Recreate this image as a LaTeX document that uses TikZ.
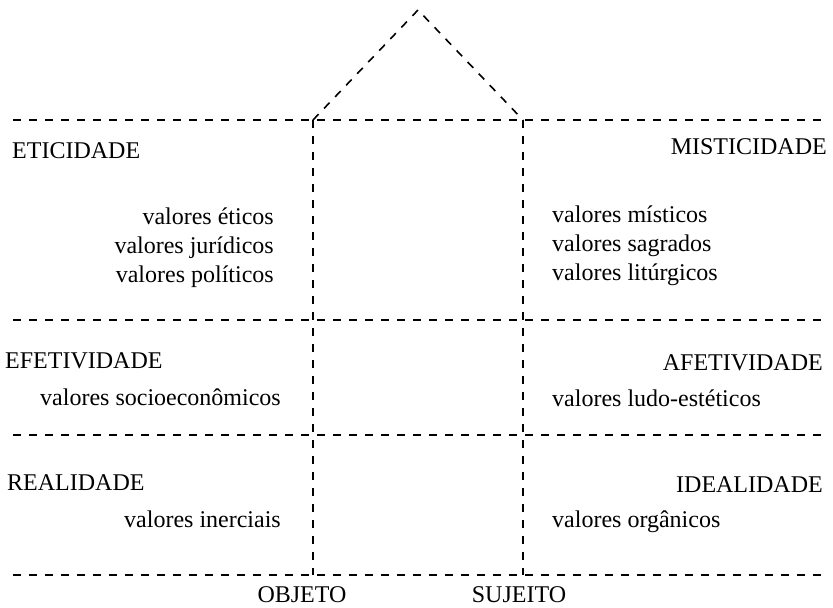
\documentclass[tikz,border=0pt]{standalone}
\usepackage{fontspec}
\setmainfont{Liberation Serif}
\usetikzlibrary{positioning}

\begin{document}
\begin{tikzpicture}[x=1pt, y=-1pt, font=\fontsize{24}{29}\selectfont,
                    inner sep=0pt]
    \tikzstyle{grade}=[line width=1.6pt, dash pattern=on 8pt off 8pt]
    \tikzstyle{esq}=[anchor=base west]
    \tikzstyle{dir}=[anchor=base east]
    \useasboundingbox (0,0) rectangle (833,608);

    % grade
    \coordinate (h1w) at (13,120);  \coordinate (h1e) at (823,120);
    \coordinate (h2w) at (13,320);  \coordinate (h2e) at (823,320);
    \coordinate (h3w) at (13,435);  \coordinate (h3e) at (823,435);
    \coordinate (h4w) at (13,575);  \coordinate (h4e) at (823,575);
    \coordinate (ot) at (313,120);  \coordinate (ob) at (313,575);
    \coordinate (st) at (523,120);  \coordinate (sb) at (523,575);
    \coordinate (cume) at (418,10);

    \draw[grade] (h1w) -- (h1e);
    \draw[grade] (h2w) -- (h2e);
    \draw[grade] (h3w) -- (h3e);
    \draw[grade] (h4w) -- (h4e);
    \draw[grade] (ot) -- (ob);
    \draw[grade] (st) -- (sb);
    \draw[grade] (ot) -- (cume) -- (st);

    % esquerda
    \node[esq] (etic) at (12,158)  {ETICIDADE};
    \node[esq] (efet) at (5,368)   {EFETIVIDADE};
    \node[esq] (real) at (7,490)   {REALIDADE};
    \foreach \t [count=\i] in {valores éticos, valores jurídicos, valores políticos}
        \node[dir] (ve\i) at (274,195+29*\i) {\t};
    \node[dir] (vsoc) at (281,405) {valores socioeconômicos};
    \node[dir] (vine) at (281,527) {valores inerciais};

    % direita
    \node[dir] (mist) at (827,154) {MISTICIDADE};
    \node[dir] (afet) at (823,370) {AFETIVIDADE};
    \node[dir] (idea) at (823,492) {IDEALIDADE};
    \foreach \t [count=\i] in {valores místicos, valores sagrados, valores litúrgicos}
        \node[esq] (vm\i) at (552,193+29*\i) {\t};
    \node[esq] (vlud) at (552,406) {valores ludo-estéticos};
    \node[esq] (vorg) at (552,527) {valores orgânicos};

    % base
    \node[anchor=base] (obj) at (302,602) {OBJETO};
    \node[anchor=base] (suj) at (519,602) {SUJEITO};
\end{tikzpicture}
\end{document}
